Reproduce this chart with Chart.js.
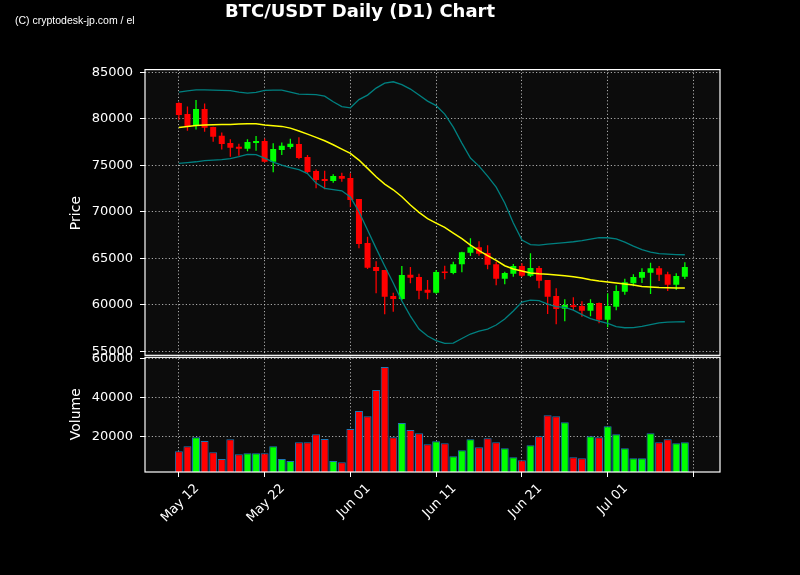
<!DOCTYPE html>
<html>
<head>
<meta charset="utf-8">
<title>BTC/USDT Daily (D1) Chart</title>
<script src="https://cdn.jsdelivr.net/npm/chart.js@4.4.1/dist/chart.umd.min.js"></script>
<style>
  html, body { margin: 0; padding: 0; background: #000; }
  #wrap { position: relative; width: 800px; height: 575px; }
</style>
</head>
<body>
<div id="wrap"><canvas id="candleChart"></canvas></div>
<script>
// daily candles, May 12 .. Jul 10
const opens  = [81700, 80517, 79260, 81055, 79120, 78185, 77400, 77000, 76787, 77400,
                77615, 75390, 76647, 76970, 77292, 75895, 74390, 73530, 73315, 73852,
                73637, 71380, 66650, 64070, 63747, 60952, 60630, 63240, 62995, 61630,
                61307, 63580, 63425, 64360, 65607, 66187, 65575, 64360, 62812, 63350,
                64177, 63135, 63962, 62672, 60952, 59587, 59952, 59877, 59372, 60200,
                58405, 59805, 61415, 62317, 62920, 63457, 63930, 63285, 62167, 63027];
const highs  = [81800, 81345, 82022, 81667, 79150, 78550, 77800, 77325, 77798, 78152,
                77905, 77368, 77475, 77860, 78013, 76110, 74572, 74422, 74035, 74207,
                74143, 71400, 67327, 64683, 63750, 61307, 64177, 64070, 63350, 62672,
                63750, 64210, 64640, 65715, 67155, 66832, 66402, 64640, 63565, 64392,
                64467, 65542, 64177, 62672, 61780, 60597, 60812, 60382, 60597, 60250,
                61242, 62102, 62812, 63285, 63930, 64532, 64177, 63565, 63392, 64575];
const lows   = [79870, 78722, 78872, 78615, 77540, 76722, 75927, 76035, 76508, 76572,
                75300, 74250, 76110, 76787, 75650, 74143, 72530, 72423, 73132, 73240,
                70487, 66080, 63855, 61243, 58985, 59265, 60500, 62317, 60597, 60597,
                61200, 62747, 63285, 63500, 65252, 65285, 63822, 62102, 62210, 63027,
                63000, 63000, 61780, 59017, 57910, 58232, 59447, 58727, 58770, 58017,
                57587, 59415, 61092, 61995, 62350, 61167, 62565, 61490, 61597, 62780];
const closes = [80410, 79227, 81055, 79045, 78077, 77292, 76895, 76790, 77507, 77615,
                75390, 76755, 77110, 77325, 75787, 74282, 73422, 73315, 73852, 73562,
                71272, 66542, 63995, 63640, 60877, 60630, 63210, 62920, 61522, 61307,
                63532, 63425, 64360, 65650, 66187, 65500, 64317, 62812, 63425, 64177,
                63135, 63962, 62597, 60877, 59555, 59985, 59770, 59372, 60200, 58405,
                59877, 61490, 62425, 62995, 63532, 63930, 63242, 62167, 63105, 64070];
const volumes = [12300, 14870, 19490, 17590, 11800, 8360, 18460, 10770, 11280, 11280,
                 11280, 14870, 8360, 7330, 16920, 16920, 21030, 18620, 7330, 6670,
                 23740, 32970, 30260, 43740, 55540, 19490, 26820, 23230, 21540, 15900,
                 17440, 16410, 9740, 12820, 18460, 14360, 18970, 16920, 13850, 9230,
                 7690, 15380, 20000, 30770, 30260, 27180, 9230, 8720, 20000, 19490,
                 25130, 21030, 13850, 8720, 8720, 21540, 16920, 18460, 16410, 16920];

// 20 day moving average and bollinger bands
const sma20 = [79087, 79195, 79300, 79335, 79370, 79390, 79410, 79440, 79475, 79475,
               79335, 79270, 79195, 79010, 78700, 78367, 78013, 77647, 77217, 76755,
               76292, 75572, 74680, 73777, 72992, 72380, 71627, 70735, 69950, 69285,
               68800, 68338, 67725, 67133, 66435, 65845, 65305, 64790, 64210, 63855,
               63640, 63425, 63340, 63295, 63210, 63135, 63027, 62888, 62694, 62565,
               62457, 62350, 62242, 62135, 61973, 61920, 61865, 61845, 61822, 61812];
const bbUpper = [82882, 83011, 83130, 83119, 83097, 83076, 83044, 82882, 82775, 82850,
                 83065, 83097, 83097, 82882, 82667, 82646, 82614, 82452, 81840, 81323,
                 81195, 82076, 82560, 83312, 83850, 83990, 83690, 83205, 82560, 81915,
                 81431, 80517, 79120, 77400, 75787, 74927, 73852, 72670, 70950, 68800,
                 66972, 66489, 66435, 66542, 66617, 66704, 66790, 66918, 67080, 67240,
                 67220, 67101, 66757, 66327, 65951, 65682, 65520, 65467, 65413, 65392];
const bbLower = [75217, 75304, 75390, 75518, 75572, 75626, 75734, 75948, 76185, 76164,
                 75787, 75357, 75035, 74766, 74551, 74121, 73100, 72530, 72401, 72272,
                 71595, 70014, 68047, 66080, 64177, 62350, 60415, 58803, 57405, 56652,
                 56169, 55868, 55900, 56384, 56868, 57190, 57405, 57835, 58480, 59340,
                 60307, 60522, 60468, 60092, 59823, 59737, 59447, 58964, 58534, 58265,
                 58018, 57673, 57544, 57565, 57695, 57888, 58071, 58157, 58179, 58190];

const tickDays = [0, 10, 20, 30, 40, 50, 60];
const tickLabels = ['May 12', 'May 22', 'Jun 01', 'Jun 11', 'Jun 21', 'Jul 01', ''];
const priceTicks = [55000, 60000, 65000, 70000, 75000, 80000, 85000];
const volumeTicks = [20000, 40000, 60000];

const UP = '#00ff00';
const DOWN = '#ff0000';

const days = opens.map((_, i) => i);
const candleColors = days.map(i => closes[i] >= opens[i] ? UP : DOWN);
const toPoints = arr => arr.map((v, i) => ({x: i, y: v}));

Chart.defaults.font.family = "'DejaVu Sans', sans-serif";
Chart.defaults.color = '#ffffff';

const gridDash = [1.2, 2.2];
const gridColor = 'rgba(200, 200, 200, 0.85)';

// dark plot panels, white frames and the copyright line
const panelPlugin = {
    id: 'panels',
    beforeDraw(chart) {
        const {ctx, chartArea: a, scales} = chart;
        ctx.save();
        ctx.fillStyle = '#000';
        ctx.fillRect(0, 0, chart.width, chart.height);
        ctx.fillStyle = '#0c0c0c';
        ['y', 'yv'].forEach(id => {
            const s = scales[id];
            ctx.fillRect(a.left, s.top, a.right - a.left, s.bottom - s.top);
        });
        ctx.restore();
    },
    afterDraw(chart) {
        const {ctx, chartArea: a, scales} = chart;
        const py = scales.y, vy = scales.yv;
        ctx.save();
        ctx.strokeStyle = '#ffffff';
        ctx.lineWidth = 1.2;
        ctx.strokeRect(a.left, py.top, a.right - a.left, py.bottom - py.top - 1.2);
        ctx.strokeRect(a.left, vy.top + 0.8, a.right - a.left, vy.bottom - vy.top - 0.8);
        ctx.fillStyle = '#ffffff';
        ctx.font = "10.5px 'Liberation Sans', sans-serif";
        ctx.textBaseline = 'middle';
        ctx.fillText('(C) cryptodesk-jp.com / el', 15, 21);
        ctx.restore();
    }
};

new Chart(document.getElementById('candleChart'), {
    type: 'bar',
    data: {
        datasets: [
            {
                type: 'line', label: 'SMA20', data: toPoints(sma20), yAxisID: 'y',
                borderColor: '#ffff00', borderWidth: 1.5, pointRadius: 0, tension: 0
            },
            {
                type: 'line', label: 'BB upper', data: toPoints(bbUpper), yAxisID: 'y',
                borderColor: '#008080', borderWidth: 1.3, pointRadius: 0, tension: 0
            },
            {
                type: 'line', label: 'BB lower', data: toPoints(bbLower), yAxisID: 'y',
                borderColor: '#008080', borderWidth: 1.3, pointRadius: 0, tension: 0
            },
            {
                label: 'Body', yAxisID: 'y', grouped: false,
                data: days.map(i => ({x: i, y: [opens[i], closes[i]]})),
                backgroundColor: candleColors, borderColor: candleColors, borderWidth: 0,
                categoryPercentage: 1, barPercentage: 0.7, minBarLength: 1.5
            },
            {
                label: 'Wick', yAxisID: 'y', grouped: false,
                data: days.map(i => ({x: i, y: [lows[i], highs[i]]})),
                backgroundColor: candleColors, borderWidth: 0,
                categoryPercentage: 1, barPercentage: 0.15
            },
            {
                label: 'Volume', yAxisID: 'yv', grouped: false,
                data: toPoints(volumes),
                backgroundColor: candleColors, borderColor: '#1f77b4', borderWidth: 1,
                categoryPercentage: 1, barPercentage: 0.93
            }
        ]
    },
    options: {
        responsive: true,
        maintainAspectRatio: false,
        animation: false,
        layout: { padding: { left: 0, right: 80, top: 0, bottom: 0 } },
        plugins: {
            legend: { display: false },
            tooltip: { enabled: false },
            title: {
                display: true,
                text: 'BTC/USDT Daily (D1) Chart',
                color: '#ffffff',
                font: { size: 18, weight: 'bold' },
                padding: { top: 2, bottom: 46 }
            }
        },
        scales: {
            x: {
                type: 'linear',
                offset: false,
                min: -3.95,
                max: 63.1,
                afterBuildTicks: s => { s.ticks = tickDays.map(v => ({value: v})); },
                afterFit: s => { s.height = 103; },
                ticks: {
                    autoSkip: false, minRotation: 45, maxRotation: 45,
                    font: { size: 13 }, color: '#ffffff', padding: 4, labelOffset: 18,
                    callback: v => tickLabels[tickDays.indexOf(v)]
                },
                grid: { offset: false, color: gridColor, tickColor: '#ffffff', tickLength: 5, lineWidth: 1 },
                border: { display: false, dash: gridDash }
            },
            yv: {
                type: 'linear', position: 'left', stack: 'panels', stackWeight: 115.5,
                min: 1690, max: 60920,
                afterBuildTicks: s => { s.ticks = volumeTicks.map(v => ({value: v})); },
                afterFit: s => { s.width = 145; },
                ticks: { font: { size: 13 }, color: '#ffffff', padding: 7, callback: v => String(v) },
                grid: { color: gridColor, tickColor: '#ffffff', tickLength: 5, lineWidth: 1 },
                border: { display: false, dash: gridDash },
                title: { display: true, text: 'Volume', color: '#ffffff', font: { size: 14 }, padding: { top: 68 } }
            },
            y: {
                type: 'linear', position: 'left', stack: 'panels', stackWeight: 287,
                min: 54450, max: 85300,
                afterBuildTicks: s => { s.ticks = priceTicks.map(v => ({value: v})); },
                afterFit: s => { s.width = 145; },
                ticks: { font: { size: 13 }, color: '#ffffff', padding: 7, callback: v => String(v) },
                grid: { color: gridColor, tickColor: '#ffffff', tickLength: 5, lineWidth: 1 },
                border: { display: false, dash: gridDash },
                title: { display: true, text: 'Price', color: '#ffffff', font: { size: 14 }, padding: { top: 68 } }
            }
        }
    },
    plugins: [panelPlugin]
});
</script>
</body>
</html>
